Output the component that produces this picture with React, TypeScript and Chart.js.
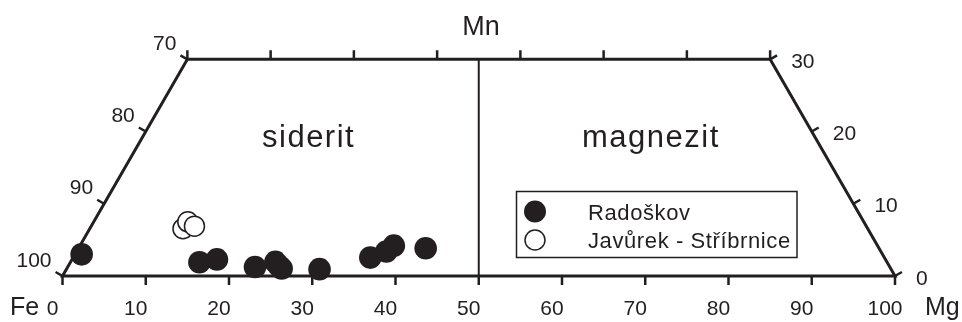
import React, { useEffect, useRef } from "react";
import { Chart, registerables } from "chart.js";

Chart.register(...registerables);

// ---- data (ternary composition, mol.% Mg and Mn; Fe = 100 - Mg - Mn) ----
const radoskovMg = [0.8, 15.5, 17.4, 22.5, 24.6, 25.3, 25.8, 30.4, 35.7, 37.2, 37.7, 41.7];
const radoskovMn = [3.0, 1.9, 2.3, 1.25, 1.95, 1.4, 1.05, 0.95, 2.55, 3.4, 4.2, 3.85];
const javurekMg = [11.2, 11.3, 12.4];
const javurekMn = [6.55, 7.5, 6.9];

const seriesLabels = ["Radoškov", "Javůrek - Stříbrnice"];
const regionLabels = ["siderit", "magnezit"];
const mgTicks = [0, 10, 20, 30, 40, 50, 60, 70, 80, 90, 100];
const topMgTicks = [0, 10, 20, 30, 40, 50, 60, 70];
const feTicks = [70, 80, 90, 100];
const mnTicks = [0, 10, 20, 30];
const apexLabel = "Mn";
const leftCornerLabel = "Fe";
const rightCornerLabel = "Mg";
const mnMax = 30;
const dividerX = 50;

const INK = "#231f20";
const FONT = "'Liberation Sans', Arial, Helvetica, sans-serif";

// ternary -> cartesian (x in Mg-axis units, y in Mn %)
const toXY = (mg: number, mn: number) => ({ x: mg + mn / 2, y: mn });

const ternaryPlugin = {
  id: "ternaryFrame",
  beforeDatasetsDraw(chart: any) {
    const { ctx } = chart;
    const xs = chart.scales.x;
    const ys = chart.scales.y;
    const P = (mg: number, mn: number) => [
      xs.getPixelForValue(mg + mn / 2),
      ys.getPixelForValue(mn),
    ];
    ctx.save();
    ctx.strokeStyle = INK;
    ctx.fillStyle = INK;
    ctx.lineCap = "butt";
    ctx.lineJoin = "miter";

    // divider
    ctx.lineWidth = 2;
    ctx.beginPath();
    ctx.moveTo(xs.getPixelForValue(dividerX), ys.getPixelForValue(0));
    ctx.lineTo(xs.getPixelForValue(dividerX), ys.getPixelForValue(mnMax));
    ctx.stroke();

    // trapezoid frame
    const a = P(0, 0);
    const b = P(100, 0);
    const c = P(100 - mnMax, mnMax);
    const d = P(0, mnMax);
    ctx.lineWidth = 3;
    ctx.beginPath();
    ctx.moveTo(a[0], a[1]);
    ctx.lineTo(b[0], b[1]);
    ctx.lineTo(c[0], c[1]);
    ctx.lineTo(d[0], d[1]);
    ctx.closePath();
    ctx.stroke();

    // ticks
    const tl = 8;
    ctx.lineWidth = 2.5;
    ctx.beginPath();
    mgTicks.forEach((v) => {
      const p = P(v, 0);
      ctx.moveTo(p[0], p[1]);
      ctx.lineTo(p[0], p[1] + tl + 1);
    });
    topMgTicks.forEach((v) => {
      const p = P(v, mnMax);
      ctx.moveTo(p[0], p[1]);
      ctx.lineTo(p[0], p[1] - tl - 1);
    });
    feTicks.forEach((v) => {
      const p = P(0, 100 - v);
      ctx.moveTo(p[0], p[1]);
      ctx.lineTo(p[0] - tl * 0.866, p[1] - tl * 0.5);
    });
    mnTicks.forEach((v) => {
      const p = P(100 - v, v);
      ctx.moveTo(p[0], p[1]);
      ctx.lineTo(p[0] + tl * 0.866, p[1] - tl * 0.5);
    });
    ctx.stroke();

    // tick labels
    ctx.font = `21px ${FONT}`;
    ctx.textBaseline = "alphabetic";
    ctx.textAlign = "center";
    mgTicks.forEach((v) => {
      const p = P(v, 0);
      ctx.fillText(String(v), p[0] - 10, p[1] + 39);
    });
    ctx.textAlign = "right";
    feTicks.forEach((v) => {
      const p = P(0, 100 - v);
      ctx.fillText(String(v), p[0] - 11, p[1] - 9.5);
    });
    ctx.textAlign = "left";
    mnTicks.forEach((v) => {
      const p = P(100 - v, v);
      ctx.fillText(String(v), p[0] + 21, p[1] + 8.5);
    });

    // corner labels
    ctx.font = `25px ${FONT}`;
    ctx.textAlign = "left";
    ctx.fillText(leftCornerLabel, 10, a[1] + 39);
    ctx.fillText(rightCornerLabel, 925, b[1] + 39);
    ctx.font = `27px ${FONT}`;
    ctx.textAlign = "center";
    ctx.fillText(apexLabel, 481, 35);

    // region labels
    ctx.font = `31px ${FONT}`;
    ctx.textAlign = "left";
    (ctx as any).letterSpacing = "1.5px";
    ctx.fillText(regionLabels[0], 262, 147);
    ctx.fillText(regionLabels[1], 582, 147);
    (ctx as any).letterSpacing = "0px";
    ctx.restore();
  },
  afterDatasetsDraw(chart: any) {
    const { ctx } = chart;
    ctx.save();
    // legend box
    ctx.strokeStyle = INK;
    ctx.lineWidth = 1.5;
    ctx.fillStyle = "#ffffff";
    ctx.fillRect(516.5, 191.5, 280.5, 66);
    ctx.strokeRect(516.5, 191.5, 280.5, 66);
    // markers
    ctx.fillStyle = INK;
    ctx.beginPath();
    ctx.arc(535, 211.5, 11, 0, Math.PI * 2);
    ctx.fill();
    ctx.beginPath();
    ctx.arc(535, 240, 10, 0, Math.PI * 2);
    ctx.fillStyle = "#ffffff";
    ctx.fill();
    ctx.stroke();
    // texts
    ctx.fillStyle = INK;
    ctx.font = `22px ${FONT}`;
    ctx.textAlign = "left";
    ctx.textBaseline = "alphabetic";
    (ctx as any).letterSpacing = "0.6px";
    ctx.fillText(chart.data.datasets[0].label, 588, 220);
    ctx.fillText(chart.data.datasets[1].label, 588, 248);
    (ctx as any).letterSpacing = "0px";
    ctx.restore();
  },
};

export default function App() {
  const ref = useRef<HTMLCanvasElement | null>(null);

  useEffect(() => {
    if (!ref.current) return;
    const chart = new Chart(ref.current, {
      type: "scatter",
      data: {
        datasets: [
          {
            label: seriesLabels[0],
            data: radoskovMg.map((mg, i) => toXY(mg, radoskovMn[i])),
            backgroundColor: INK,
            borderColor: INK,
            borderWidth: 0,
            pointRadius: 11.3,
            pointHoverRadius: 11.3,
            clip: false as any,
          },
          {
            label: seriesLabels[1],
            data: javurekMg.map((mg, i) => toXY(mg, javurekMn[i])),
            backgroundColor: "#ffffff",
            borderColor: INK,
            borderWidth: 1.5,
            pointRadius: 10,
            pointHoverRadius: 10,
            clip: false as any,
          },
        ],
      },
      options: {
        responsive: false,
        animation: false,
        devicePixelRatio: 1,
        layout: { padding: { left: 62.5, right: 67, top: 59.3, bottom: 46 } },
        scales: {
          x: { type: "linear", min: 0, max: 100, display: false },
          y: { type: "linear", min: 0, max: mnMax, display: false },
        },
        plugins: {
          legend: { display: false },
          tooltip: { enabled: false },
        },
        events: [],
      },
      plugins: [ternaryPlugin],
    });
    return () => chart.destroy();
  }, []);

  return (
    <div style={{ position: "absolute", left: 0, top: 0, width: 962, height: 322, background: "#fff" }}>
      <canvas ref={ref} width={962} height={322} style={{ display: "block" }} />
    </div>
  );
}
